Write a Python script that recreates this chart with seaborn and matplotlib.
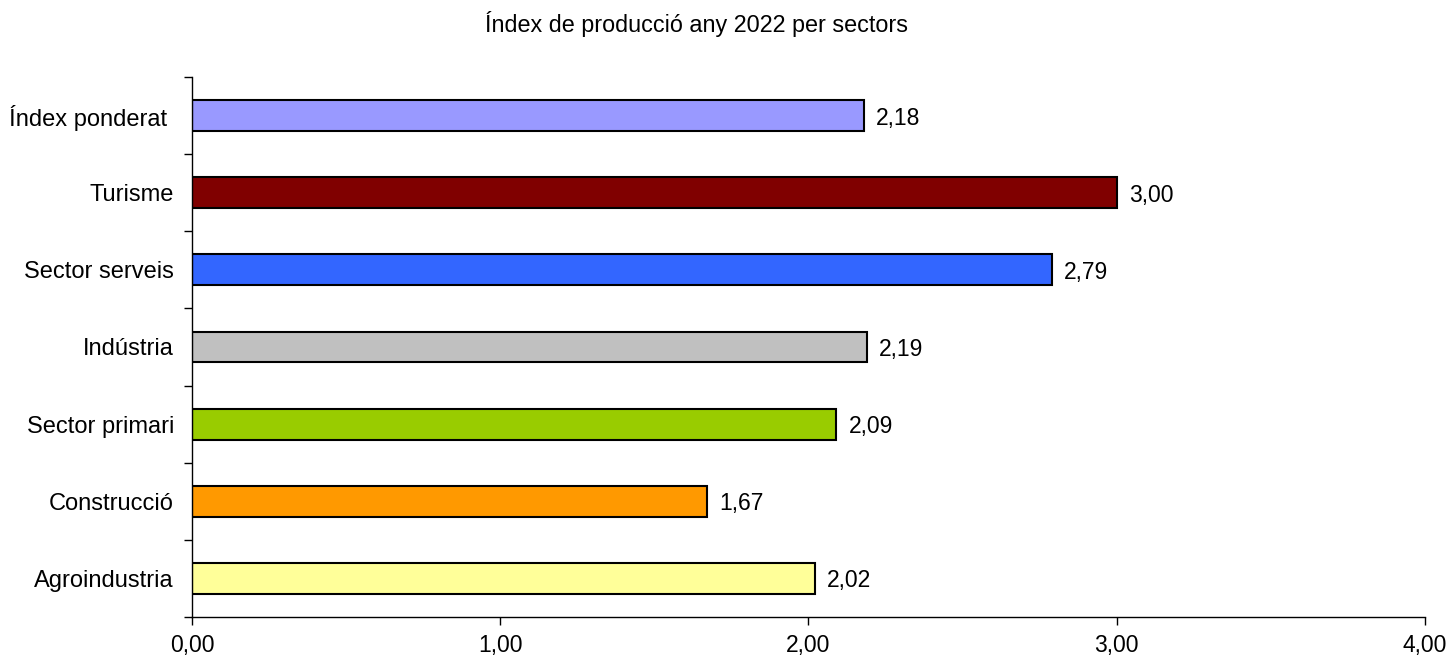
import matplotlib
matplotlib.use("Agg")
import matplotlib.pyplot as plt
import seaborn as sns
import pandas as pd
from matplotlib.ticker import FixedLocator

categories = ["Índex ponderat ", "Turisme", "Sector serveis", "Indústria",
              "Sector primari", "Construcció", "Agroindustria"]
values = [2.18, 3.00, 2.79, 2.19, 2.09, 1.67, 2.02]
colors = ["#9999FF", "#800000", "#3366FF", "#C0C0C0", "#99CC00", "#FF9900", "#FFFF99"]
xticks = [0, 1, 2, 3, 4]
title = "Índex de producció any 2022 per sectors"

sns.set_theme(style="white")
plt.rcParams["font.family"] = ["Liberation Sans", "DejaVu Sans"]
plt.rcParams["xtick.bottom"] = True
plt.rcParams["ytick.left"] = True
plt.rcParams["text.color"] = "black"
plt.rcParams["xtick.color"] = "black"
plt.rcParams["ytick.color"] = "black"

df = pd.DataFrame({"cat": categories, "val": values})

fig = plt.figure(figsize=(14.52, 6.58), dpi=100)
ax = fig.add_axes([0.1322, 0.0623, 0.8492, 0.8207])

sns.barplot(data=df, y="cat", x="val", hue="cat", palette=colors, orient="h",
            width=0.4, edgecolor="black", linewidth=1.5, legend=False, ax=ax,
            saturation=1)

ax.set_xlim(0, 4)
ax.set_ylim(len(categories) - 0.5, -0.5)
ax.set_xticks(xticks)
ax.set_xticklabels([f"{v:.2f}".replace(".", ",") for v in xticks], fontsize=16.5)
ax.tick_params(axis="x", bottom=True, direction="out", length=6, width=1, color="black", pad=6)
ax.tick_params(axis="y", which="major", left=True, length=0, pad=13, labelsize=17)
ax.yaxis.set_minor_locator(FixedLocator([i - 0.5 for i in range(len(categories) + 1)]))
ax.tick_params(axis="y", which="minor", left=True, direction="out", length=6, width=1, color="black")
ax.set_xlabel("")
ax.set_ylabel("")

for sp in ["top", "right"]:
    ax.spines[sp].set_visible(False)
for sp in ["left", "bottom"]:
    ax.spines[sp].set_color("black")
    ax.spines[sp].set_linewidth(1)

for i, v in enumerate(values):
    ax.text(v + 0.04, i, f"{v:.2f}".replace(".", ","), va="center_baseline", ha="left",
            fontsize=16.5, color="black")

fig.text(0.48, 0.964, title, ha="center", va="center", fontsize=16.8, color="black")

fig.savefig("out.png", dpi=100)
